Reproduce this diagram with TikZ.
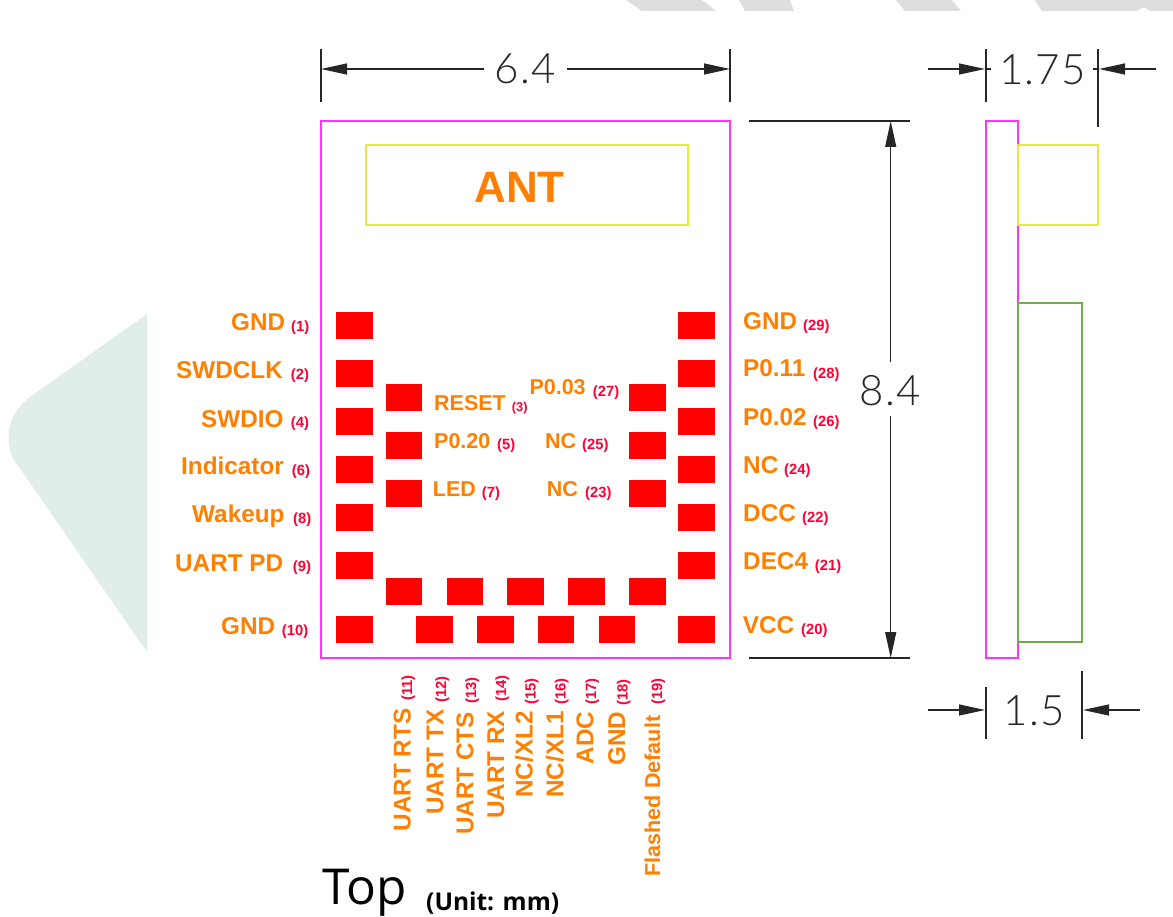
\documentclass[tikz,border=0pt]{standalone}
\usepackage{fontspec}
\setmainfont{Liberation Sans}
\newfontfamily\dimfont{Lato}[UprightFont={* Light},LetterSpace=3]
\newfontfamily\capfont{Open Sans}
\usetikzlibrary{arrows.meta}
\definecolor{labc}{HTML}{FF8000}
\definecolor{pinred}{HTML}{FF0033}
\definecolor{padc}{HTML}{FF0000}
\definecolor{pinkc}{HTML}{FF33FF}
\definecolor{yelc}{HTML}{E8E840}
\definecolor{grnc}{HTML}{70AD47}
\definecolor{markc}{HTML}{DEDEDE}
\definecolor{leafc}{HTML}{E1EDE9}
\definecolor{dimc}{HTML}{262626}
\tikzset{
  x=1pt,y=-1pt,
  padbox/.style={fill=padc,draw=none},
  outlinebox/.style={draw=#1,line width=1.5pt},
  dimline/.style={draw=dimc,line width=1.2pt},
  dimarrow/.style={dimline,-{Triangle[length=26pt,width=11pt]}},
  dimtext/.style={inner sep=0pt,anchor=base,text=dimc,font=\dimfont\fontsize{42}{42}\selectfont},
  outerlab/.style={inner sep=0pt,anchor=base west,text=labc,font=\bfseries\fontsize{24.3}{24.3}\selectfont},
  innerlab/.style={inner sep=0pt,anchor=base west,text=labc,font=\bfseries\fontsize{21.5}{21.5}\selectfont},
  pinnum/.style={inner sep=0pt,anchor=base west,text=pinred,font=\bfseries\fontsize{14.8}{14.8}\selectfont},
  vertlab/.style={outerlab,rotate=90},
  vertnum/.style={pinnum,rotate=90},
}
\newcommand{\padat}[4]{\path[padbox] (#1,#2) rectangle (#3,#4);}
\begin{document}
\begin{tikzpicture}
\useasboundingbox (0,0) rectangle (1173,917);
% background watermark
\fill[fill=markc] (626,0) -- (642,11) -- (716,11) -- (702,0) -- cycle;
\fill[fill=markc] (739,0) -- (745,11) -- (794,11) -- (790,0) -- cycle;
\fill[fill=markc] (896,0) -- (905,11) -- (961,11) -- (952,0) -- cycle;
\fill[fill=markc] (1035,0) -- (1042,11) -- (1136,11) -- (1144,7) -- (1150,11) -- (1173,11) -- (1173,0) -- cycle;
\fill[fill=leafc] (147,314) -- (30,397) .. controls (12,410) and (3,433) .. (12,457) -- (147,652) -- cycle;
% outlines
\draw[outlinebox=pinkc] (321,121) rectangle (730,658);
\draw[outlinebox=yelc] (366,145) rectangle (688,225);
\draw[outlinebox=pinkc] (986,121) rectangle (1018,658);
\draw[outlinebox=yelc] (1018,145) rectangle (1098,225);
\draw[outlinebox=grnc] (1018,303) rectangle (1082,642);
\node[inner sep=0pt,anchor=base,text=labc,font=\bfseries\fontsize{44}{44}\selectfont] (ant) at (519.5,203) {ANT};
% pads: outer columns
\padat{336}{311.7}{373}{339}
\padat{336}{359.7}{373}{387}
\padat{336}{407.7}{373}{435}
\padat{336}{455.7}{373}{483}
\padat{336}{503.7}{373}{531}
\padat{336}{551.7}{373}{579}
\padat{336}{615.7}{373}{642.7}
\padat{678.3}{311.7}{715.3}{339}
\padat{678.3}{359.7}{715.3}{387}
\padat{678.3}{407.7}{715.3}{435}
\padat{678.3}{455.7}{715.3}{483}
\padat{678.3}{503.7}{715.3}{531}
\padat{678.3}{551.7}{715.3}{579}
\padat{678.3}{615.7}{715.3}{642.7}
% pads: inner columns
\padat{385.7}{384}{422.3}{411}
\padat{385.7}{432}{422.3}{458.7}
\padat{385.7}{479.7}{422.3}{506.7}
\padat{629}{384}{665.7}{411}
\padat{629}{432}{665.7}{458.7}
\padat{629}{479.7}{665.7}{506.7}
% pads: bottom rows
\padat{385.7}{578.3}{422.3}{605}
\padat{446.7}{578.3}{483.3}{605}
\padat{507.3}{578.3}{544}{605}
\padat{568}{578.3}{605}{605}
\padat{629}{578.3}{665.7}{605}
\padat{416}{615.7}{452.7}{642.7}
\padat{477}{615.7}{513.7}{642.7}
\padat{537.7}{615.7}{574.3}{642.7}
\padat{598.7}{615.7}{635.3}{642.7}
% dimension 6.4
\coordinate (wl) at (321,69); \coordinate (wr) at (730,69);
\coordinate (wlb) at (484,69); \coordinate (wrb) at (567,69);
\draw[dimline] (321,49) -- (321,102);
\draw[dimline] (730,49) -- (730,102);
\draw[dimarrow] (wlb) -- (wl);
\draw[dimarrow] (wrb) -- (wr);
\node[dimtext] (d64) at (525,84) {6.4};
% dimension 1.75
\coordinate (tl) at (985,69); \coordinate (tr) at (1099,69);
\coordinate (tlb) at (928,69); \coordinate (trb) at (1156,69);
\draw[dimline] (986,49) -- (986,102);
\draw[dimline] (1098,49) -- (1098,127);
\draw[dimarrow] (tlb) -- (tl);
\draw[dimarrow] (trb) -- (tr);
\draw[dimline] (986,69) -- (991,69);
\draw[dimline] (1093,69) -- (1098,69);
\node[dimtext] (d175) at (1042.5,85) {1.75};
% dimension 8.4
\coordinate (vt) at (890.7,121); \coordinate (vb) at (890.7,658);
\coordinate (vtb) at (890.7,362); \coordinate (vbb) at (890.7,416);
\draw[dimline] (749,121) -- (910,121);
\draw[dimline] (749,658) -- (910,658);
\draw[dimarrow] (vtb) -- (vt);
\draw[dimarrow] (vbb) -- (vb);
\node[dimtext] (d84) at (890,405) {8.4};
% dimension 1.5
\coordinate (bl) at (985,710); \coordinate (br) at (1083,710);
\coordinate (blb) at (928,710); \coordinate (brb) at (1140,710);
\draw[dimline] (986,687) -- (986,739);
\draw[dimline] (1082,671) -- (1082,739);
\draw[dimarrow] (blb) -- (bl);
\draw[dimarrow] (brb) -- (br);
\node[dimtext] (d15) at (1034,725) {1.5};
% left labels
\node[outerlab] (l1) at (231,331) {GND};      \node[pinnum] (n1) at (291,332) {(1)};
\node[outerlab] (l2) at (176,378) {SWDCLK};   \node[pinnum] (n2) at (290.7,379) {(2)};
\node[outerlab] (l4) at (201,427) {SWDIO};    \node[pinnum] (n4) at (290.7,427.5) {(4)};
\node[outerlab] (l6) at (181,474) {Indicator};\node[pinnum] (n6) at (291.7,475) {(6)};
\node[outerlab] (l8) at (192,522) {Wakeup};   \node[pinnum] (n8) at (293,523) {(8)};
\node[outerlab] (l9) at (175,571) {UART PD};  \node[pinnum] (n9) at (292.7,571.5) {(9)};
\node[outerlab] (l10) at (221,634) {GND};     \node[pinnum] (n10) at (281.7,635) {(10)};
% right labels
\node[outerlab] (l29) at (743,330) {GND};     \node[pinnum] (n29) at (803,331) {(29)};
\node[outerlab] (l28) at (743,377) {P0.11};   \node[pinnum] (n28) at (813,378) {(28)};
\node[outerlab] (l26) at (743,425) {P0.02};   \node[pinnum] (n26) at (813,426) {(26)};
\node[outerlab] (l24) at (743,473) {NC};      \node[pinnum] (n24) at (784,474) {(24)};
\node[outerlab] (l22) at (743,521) {DCC};     \node[pinnum] (n22) at (802,522) {(22)};
\node[outerlab] (l21) at (743,569) {DEC4};    \node[pinnum] (n21) at (814.7,570) {(21)};
\node[outerlab] (l20) at (742.7,633) {VCC};   \node[pinnum] (n20) at (801,634) {(20)};
% inner labels
\node[innerlab] (l3) at (434,410.7) {RESET};  \node[pinnum,font=\bfseries\fontsize{12.8}{12.8}\selectfont] (n3) at (511.7,411) {(3)};
\node[innerlab] (l5) at (434,448.3) {P0.20};  \node[pinnum] (n5) at (497,449) {(5)};
\node[innerlab] (l7) at (432.7,496) {LED};    \node[pinnum] (n7) at (481.7,497) {(7)};
\node[innerlab] (l27) at (529.3,395) {P0.03}; \node[pinnum] (n27) at (592.7,396) {(27)};
\node[innerlab] (l25) at (545,448.3) {NC};    \node[pinnum] (n25) at (582,449) {(25)};
\node[innerlab] (l23) at (546.7,496.7) {NC};  \node[pinnum] (n23) at (585,497.5) {(23)};
% bottom labels
\node[vertlab] (l11) at (410.7,831.7) {UART RTS}; \node[vertnum] (n11) at (412,701) {(11)};
\node[vertlab] (l12) at (443.3,815) {UART TX};    \node[vertnum] (n12) at (446,702.7) {(12)};
\node[vertlab] (l13) at (473.3,835) {UART CTS};   \node[vertnum] (n13) at (476,704) {(13)};
\node[vertlab] (l14) at (504,819) {UART RX};      \node[vertnum] (n14) at (506,702) {(14)};
\node[vertlab] (l15) at (532.7,798) {NC/XL2};     \node[vertnum] (n15) at (535.7,705) {(15)};
\node[vertlab] (l16) at (563.3,798) {NC/XL1};     \node[vertnum] (n16) at (565.7,705) {(16)};
\node[vertlab] (l17) at (593.3,764.3) {ADC};      \node[vertnum] (n17) at (596,705) {(17)};
\node[vertlab] (l18) at (625,765.7) {GND};        \node[vertnum] (n18) at (627.7,705.7) {(18)};
\node[vertlab,font=\bfseries\fontsize{21.6}{21.6}\selectfont] (l19) at (660,876.7) {Flashed Default};
\node[vertnum] (n19) at (662,705) {(19)};
% caption
\node[inner sep=0pt,anchor=base west,text=black,font=\capfont\fontsize{49.5}{49.5}\selectfont] (top) at (322,904.5) {Top};
\node[inner sep=0pt,anchor=base west,text=black,font=\capfont\bfseries\fontsize{24.5}{24.5}\selectfont] (unit) at (426,910) {(Unit: mm)};
\end{tikzpicture}
\end{document}
